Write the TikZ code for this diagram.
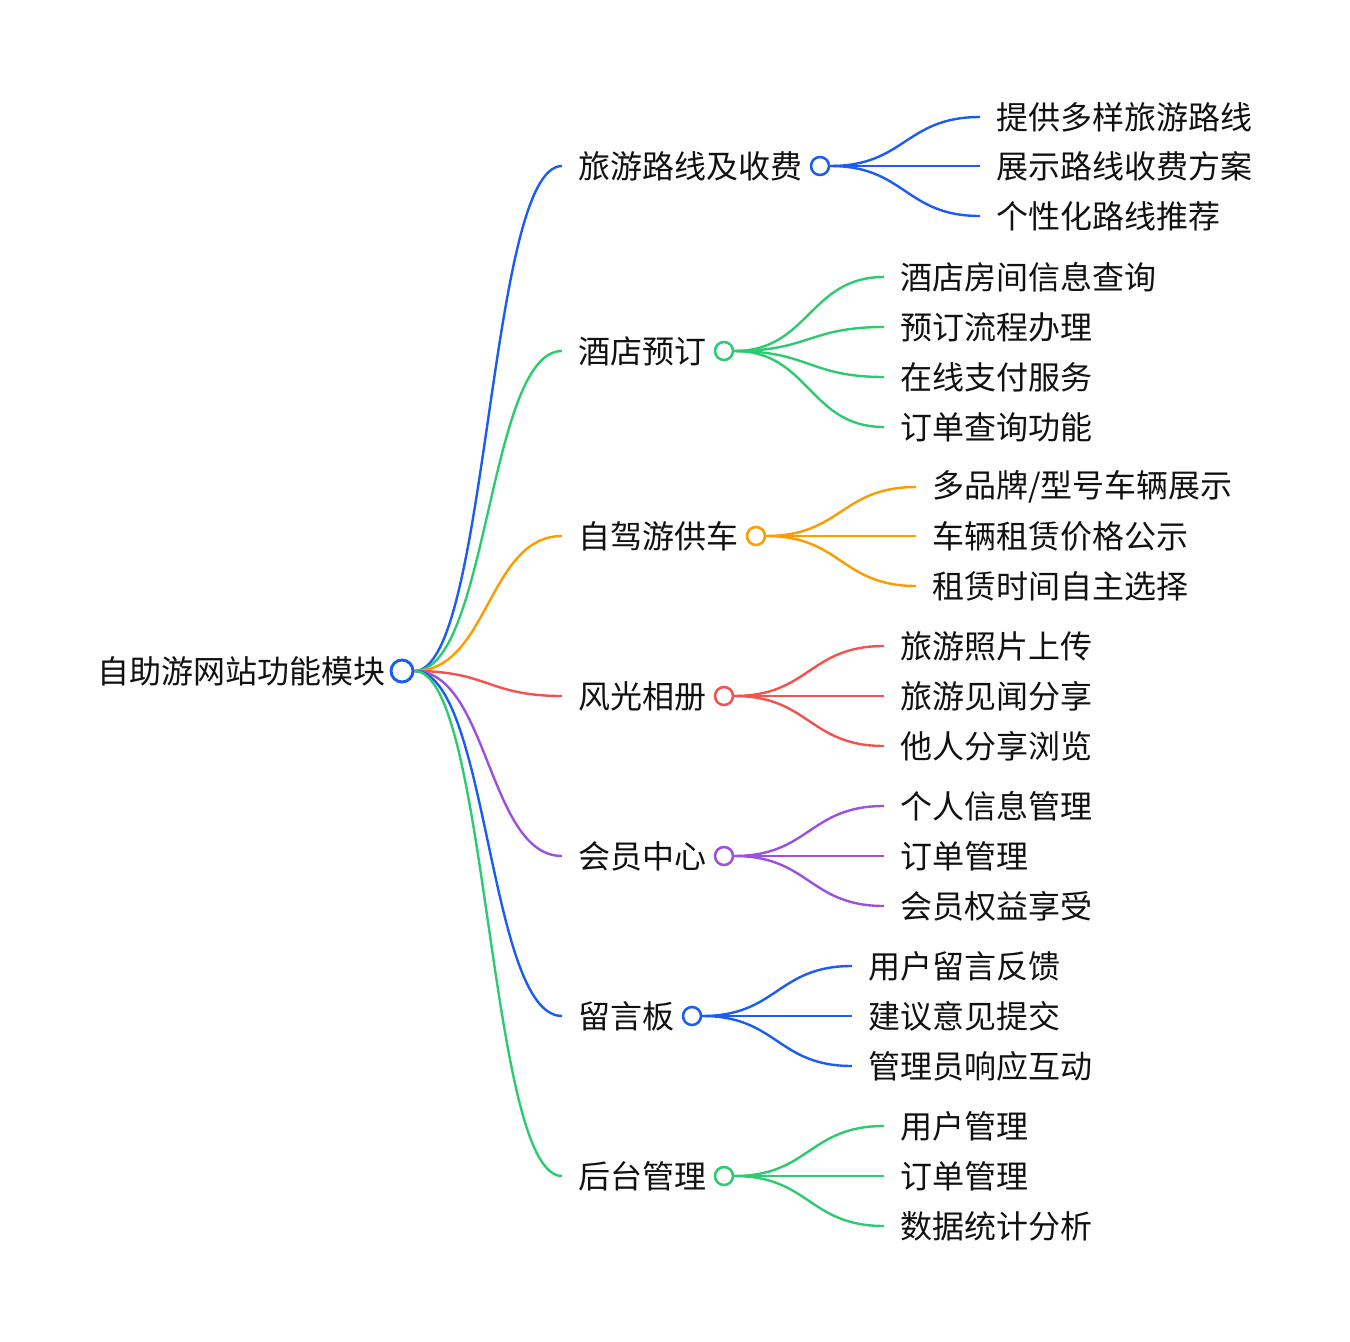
\documentclass[tikz,border=0pt]{standalone}
\usepackage{fontspec}
\setmainfont{Noto Sans CJK SC}
\definecolor{mmblue}{HTML}{1A5CF5}
\definecolor{mmgreen}{HTML}{2DCB70}
\definecolor{mmorange}{HTML}{FF9A00}
\definecolor{mmred}{HTML}{F5514F}
\definecolor{mmpurple}{HTML}{9B50E0}
\definecolor{mmink}{HTML}{111111}

\begin{document}
\begin{tikzpicture}[x=0.75pt, y=-0.75pt,
  lbl/.style={anchor=west, inner sep=0pt, color=mmink, font=\fontsize{24}{28}\selectfont},
  dot/.style={circle, draw=#1, fill=white, line width=1.9pt, minimum size=13.5pt, inner sep=0pt},
  rootdot/.style={circle, draw=#1, fill=white, line width=2.2pt, minimum size=16.5pt, inner sep=0pt},
  link/.style={draw=#1, line width=1.8pt}]
  \useasboundingbox (0,0) rectangle (1350,1342);

  % root
  \node[lbl, anchor=east] (rootlbl) at (386,671) {自助游网站功能模块};
  \node[rootdot=mmblue] (root) at (402,671) {};

  % branches
  \node[lbl] (b1) at (578,166) {旅游路线及收费};
  \node[lbl] (b2) at (578,351) {酒店预订};
  \node[lbl] (b3) at (578,536) {自驾游供车};
  \node[lbl] (b4) at (578,696) {风光相册};
  \node[lbl] (b5) at (578,856) {会员中心};
  \node[lbl] (b6) at (578,1016) {留言板};
  \node[lbl] (b7) at (578,1176) {后台管理};
  \coordinate (e1) at (562,166);
  \coordinate (e2) at (562,351);
  \coordinate (e3) at (562,536);
  \coordinate (e4) at (562,696);
  \coordinate (e5) at (562,856);
  \coordinate (e6) at (562,1016);
  \coordinate (e7) at (562,1176);
  \node[dot=mmblue] (c1) at (820,166) {};
  \node[dot=mmgreen] (c2) at (724,351) {};
  \node[dot=mmorange] (c3) at (756,536) {};
  \node[dot=mmred] (c4) at (724,696) {};
  \node[dot=mmpurple] (c5) at (724,856) {};
  \node[dot=mmblue] (c6) at (692,1016) {};
  \node[dot=mmgreen] (c7) at (724,1176) {};

  \draw[link=mmblue] (root.east) .. controls +(74,0) and +(-74,0) .. (e1);
  \draw[link=mmgreen] (root.east) .. controls +(74,0) and +(-74,0) .. (e2);
  \draw[link=mmorange] (root.east) .. controls +(74,0) and +(-74,0) .. (e3);
  \draw[link=mmred] (root.east) .. controls +(74,0) and +(-74,0) .. (e4);
  \draw[link=mmpurple] (root.east) .. controls +(74,0) and +(-74,0) .. (e5);
  \draw[link=mmblue] (root.east) .. controls +(74,0) and +(-74,0) .. (e6);
  \draw[link=mmgreen] (root.east) .. controls +(74,0) and +(-74,0) .. (e7);

  % 旅游路线及收费
  \node[lbl] (b1-1) at (996,117) {提供多样旅游路线};
  \node[lbl] (b1-2) at (996,166) {展示路线收费方案};
  \node[lbl] (b1-3) at (996,216) {个性化路线推荐};
  \coordinate (e1-1) at (980,117);
  \coordinate (e1-2) at (980,166);
  \coordinate (e1-3) at (980,216);
  \draw[link=mmblue] (c1.east) .. controls +(75,0) and +(-75,0) .. (e1-1);
  \draw[link=mmblue] (c1.east) -- (e1-2);
  \draw[link=mmblue] (c1.east) .. controls +(75,0) and +(-75,0) .. (e1-3);

  % 酒店预订
  \node[lbl] (b2-1) at (900,277) {酒店房间信息查询};
  \node[lbl] (b2-2) at (900,327) {预订流程办理};
  \node[lbl] (b2-3) at (900,377) {在线支付服务};
  \node[lbl] (b2-4) at (900,427) {订单查询功能};
  \coordinate (e2-1) at (884,277);
  \coordinate (e2-2) at (884,327);
  \coordinate (e2-3) at (884,377);
  \coordinate (e2-4) at (884,427);
  \draw[link=mmgreen] (c2.east) .. controls +(75,0) and +(-75,0) .. (e2-1);
  \draw[link=mmgreen] (c2.east) .. controls +(75,0) and +(-75,0) .. (e2-2);
  \draw[link=mmgreen] (c2.east) .. controls +(75,0) and +(-75,0) .. (e2-3);
  \draw[link=mmgreen] (c2.east) .. controls +(75,0) and +(-75,0) .. (e2-4);

  % 自驾游供车
  \node[lbl] (b3-1) at (932,487) {多品牌/型号车辆展示};
  \node[lbl] (b3-2) at (932,536) {车辆租赁价格公示};
  \node[lbl] (b3-3) at (932,586) {租赁时间自主选择};
  \coordinate (e3-1) at (916,487);
  \coordinate (e3-2) at (916,536);
  \coordinate (e3-3) at (916,586);
  \draw[link=mmorange] (c3.east) .. controls +(75,0) and +(-75,0) .. (e3-1);
  \draw[link=mmorange] (c3.east) -- (e3-2);
  \draw[link=mmorange] (c3.east) .. controls +(75,0) and +(-75,0) .. (e3-3);

  % 风光相册
  \node[lbl] (b4-1) at (900,646) {旅游照片上传};
  \node[lbl] (b4-2) at (900,696) {旅游见闻分享};
  \node[lbl] (b4-3) at (900,746) {他人分享浏览};
  \coordinate (e4-1) at (884,646);
  \coordinate (e4-2) at (884,696);
  \coordinate (e4-3) at (884,746);
  \draw[link=mmred] (c4.east) .. controls +(75,0) and +(-75,0) .. (e4-1);
  \draw[link=mmred] (c4.east) -- (e4-2);
  \draw[link=mmred] (c4.east) .. controls +(75,0) and +(-75,0) .. (e4-3);

  % 会员中心
  \node[lbl] (b5-1) at (900,806) {个人信息管理};
  \node[lbl] (b5-2) at (900,856) {订单管理};
  \node[lbl] (b5-3) at (900,906) {会员权益享受};
  \coordinate (e5-1) at (884,806);
  \coordinate (e5-2) at (884,856);
  \coordinate (e5-3) at (884,906);
  \draw[link=mmpurple] (c5.east) .. controls +(75,0) and +(-75,0) .. (e5-1);
  \draw[link=mmpurple] (c5.east) -- (e5-2);
  \draw[link=mmpurple] (c5.east) .. controls +(75,0) and +(-75,0) .. (e5-3);

  % 留言板
  \node[lbl] (b6-1) at (868,966) {用户留言反馈};
  \node[lbl] (b6-2) at (868,1016) {建议意见提交};
  \node[lbl] (b6-3) at (868,1066) {管理员响应互动};
  \coordinate (e6-1) at (852,966);
  \coordinate (e6-2) at (852,1016);
  \coordinate (e6-3) at (852,1066);
  \draw[link=mmblue] (c6.east) .. controls +(75,0) and +(-75,0) .. (e6-1);
  \draw[link=mmblue] (c6.east) -- (e6-2);
  \draw[link=mmblue] (c6.east) .. controls +(75,0) and +(-75,0) .. (e6-3);

  % 后台管理
  \node[lbl] (b7-1) at (900,1126) {用户管理};
  \node[lbl] (b7-2) at (900,1176) {订单管理};
  \node[lbl] (b7-3) at (900,1226) {数据统计分析};
  \coordinate (e7-1) at (884,1126);
  \coordinate (e7-2) at (884,1176);
  \coordinate (e7-3) at (884,1226);
  \draw[link=mmgreen] (c7.east) .. controls +(75,0) and +(-75,0) .. (e7-1);
  \draw[link=mmgreen] (c7.east) -- (e7-2);
  \draw[link=mmgreen] (c7.east) .. controls +(75,0) and +(-75,0) .. (e7-3);
\end{tikzpicture}
\end{document}
